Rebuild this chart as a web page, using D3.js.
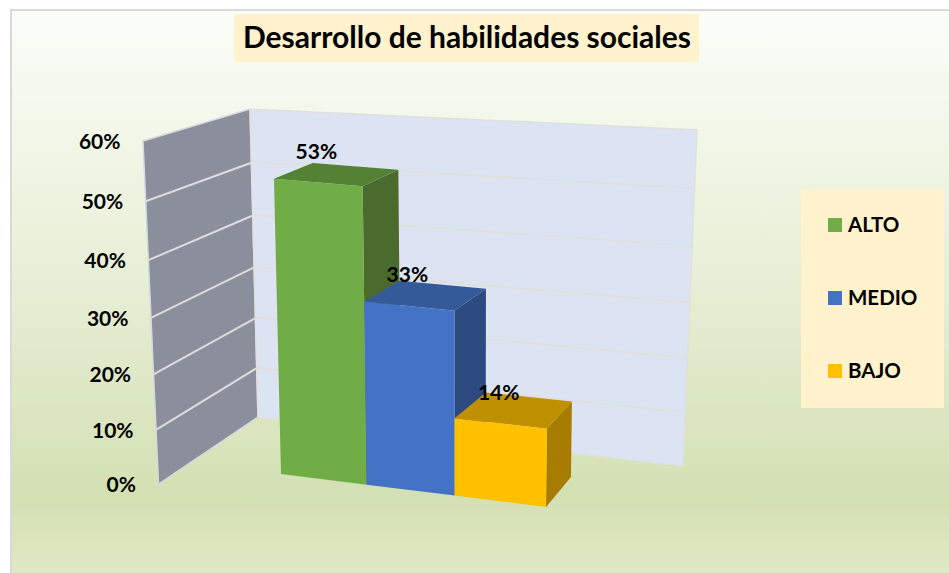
<!DOCTYPE html>
<html><head><meta charset="utf-8">
<style>html,body{margin:0;padding:0;background:#fff}svg{display:block}text{font-family:Lato,"Noto Sans",sans-serif;font-weight:700;fill:#000}</style>
<script src="https://cdn.jsdelivr.net/npm/d3@7"></script>
</head><body><div id="chart"></div>
<script>
const chartTitle = "Desarrollo de habilidades sociales";
const categories = ["ALTO", "MEDIO", "BAJO"];
const values = [53, 33, 14];
const tickValues = [0, 10, 20, 30, 40, 50, 60];
const frontColors = ["#70ad47", "#4472c4", "#ffc000"];
const sideColors = ["#4a6b2c", "#2c4a80", "#a67d00"];
const topColors = ["#548235", "#355a9a", "#bf9000"];

const W = 949, H = 573;
const svg = d3.select("#chart").append("svg").attr("width", W).attr("height", H);

// Maps the unit square onto a quad [p00, p10, p11, p01] (perspective plane)
function plane(p00, p10, p11, p01) {
  const [x0,y0]=p00,[x1,y1]=p10,[x2,y2]=p11,[x3,y3]=p01;
  const dx1=x1-x2,dx2=x3-x2,dy1=y1-y2,dy2=y3-y2,sx=x0-x1+x2-x3,sy=y0-y1+y2-y3;
  const den=dx1*dy2-dx2*dy1;
  const g=(sx*dy2-dx2*sy)/den,h=(dx1*sy-sx*dy1)/den;
  const a=x1-x0+g*x1,b=x3-x0+h*x3,d=y1-y0+g*y1,e=y3-y0+h*y3;
  return (u,v)=>{const w=g*u+h*v+1;return [(a*u+b*v+x0)/w,(d*u+e*v+y0)/w];};
}
const yNorm = d3.scaleLinear().domain([0, 60]).range([0, 1]);
const uFront = d3.scaleLinear().domain([0,1,2,3]).range([0,.33,.663,1]);
const uBack = d3.scaleLinear().domain([0,1,2,3]).range([0,.335,.67,1]);
const leftWall = plane([158.5,484],[258,417],[250,109],[143,141]);
const backWall = plane([258,417],[683,466],[697,130],[250,109]);
const frontPlane = plane([281,474],[546,507],[550,160],[273,138]);
const rearPlane = plane([318,448],[571,477],[575,143],[311.8,124]);
const F = (i,val)=>frontPlane(uFront(i),yNorm(val));
const B = (i,val)=>rearPlane(uBack(i),yNorm(val));
const poly = pts => "M"+pts.map(p=>p.join(",")).join("L")+"Z";

// Background
const defs = svg.append("defs");
const grad = defs.append("linearGradient").attr("id","bg").attr("x1",0).attr("y1",0).attr("x2",0).attr("y2",1);
[[0,"#fbfdf9"],[.3,"#eff4e2"],[.55,"#e3ecd0"],[.85,"#d3e0b2"],[1,"#e1eac8"]].forEach(([o,c])=>grad.append("stop").attr("offset",o).attr("stop-color",c));
svg.append("rect").attr("x",11).attr("y",10).attr("width",W).attr("height",H)
  .attr("fill","url(#bg)").attr("stroke","#d9d9d9").attr("stroke-width",2);

// Walls
svg.append("path").attr("d",poly([leftWall(0,0),leftWall(1,0),leftWall(1,1),leftWall(0,1)]))
  .attr("fill","#8a8f9b").attr("stroke","#d5d8e0").attr("stroke-width",1.5);
svg.append("path").attr("d",poly([backWall(0,0),backWall(1,0),backWall(1,1),backWall(0,1)]))
  .attr("fill","#dce3f2").attr("stroke","#e0e0de").attr("stroke-width",1.5);
const inner = tickValues.filter(t=>t>0&&t<60);
const line = d3.line();
svg.append("g").selectAll("path").data(inner).join("path")
  .attr("d",t=>line([leftWall(0,yNorm(t)),leftWall(1,yNorm(t))]))
  .attr("stroke","#dcdcdc").attr("stroke-width",2).attr("fill","none");
svg.append("g").selectAll("path").data(inner).join("path")
  .attr("d",t=>line([backWall(0,yNorm(t)),backWall(1,yNorm(t))]))
  .attr("stroke","#e3e0d8").attr("stroke-width",1.6).attr("fill","none");

// Axis labels follow the front edge of the left wall
svg.append("g").selectAll("text").data(tickValues).join("text")
  .attr("x",t=>leftWall(0,yNorm(t))[0]-22.5).attr("y",t=>leftWall(0,yNorm(t))[1]+8)
  .attr("text-anchor","end").attr("font-size",21).text(t=>t+"%");

// Bars (back to front, left to right)
const bars = svg.append("g");
values.forEach((val,i)=>{
  bars.append("path").attr("d",poly([F(i+1,0),B(i+1,0),B(i+1,val),F(i+1,val)])).attr("fill",sideColors[i]);
  bars.append("path").attr("d",poly([F(i,val),F(i+1,val),B(i+1,val),B(i,val)])).attr("fill",topColors[i]);
  bars.append("path").attr("d",poly([F(i,0),F(i+1,0),F(i+1,val),F(i,val)])).attr("fill",frontColors[i]);
});

// Data labels
svg.append("g").selectAll("text").data(values).join("text")
  .attr("x",(v,i)=>(F(i,v)[0]+F(i+1,v)[0])/2-2)
  .attr("y",(v,i)=>(F(i,v)[1]+F(i+1,v)[1])/2-24)
  .attr("text-anchor","middle").attr("font-size",21).text(v=>v+"%");

// Title
svg.append("rect").attr("x",234).attr("y",14).attr("width",465).attr("height",48).attr("fill","#fff2cc");
svg.append("text").attr("x",467).attr("y",48).attr("text-anchor","middle").attr("font-size",30).text(chartTitle);

// Legend
svg.append("rect").attr("x",801).attr("y",189).attr("width",143).attr("height",219).attr("fill","#fff2cc");
const legendY = d3.scalePoint().domain(categories).range([225,371]);
const lg = svg.append("g").selectAll("g").data(categories).join("g");
lg.append("rect").attr("x",828).attr("y",c=>legendY(c)-7).attr("width",14).attr("height",14).attr("fill",(c,i)=>frontColors[i]);
lg.append("text").attr("x",848).attr("y",c=>legendY(c)+7).attr("font-size",20.5).text(c=>c);
</script></body></html>
